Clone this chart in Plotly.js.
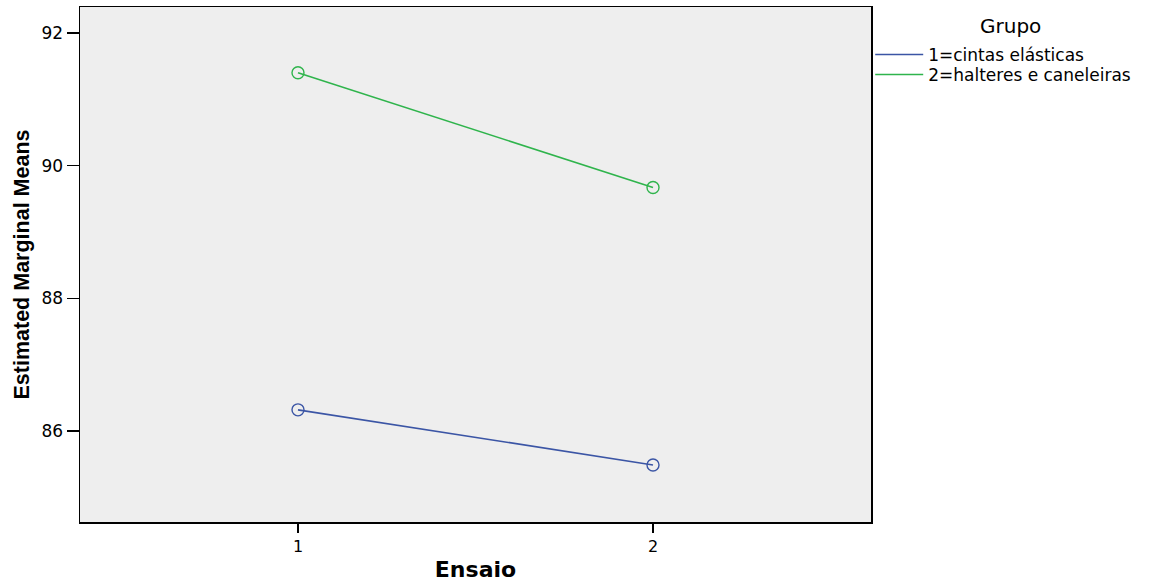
<!DOCTYPE html>
<html><head><meta charset="utf-8">
<script src="https://cdn.plot.ly/plotly-3.0.1.min.js"></script>
<style>body{margin:0;background:#fff}#c{width:1154px;height:587px}</style>
</head><body><div id="c"></div>
<script>
const ensaio = [1, 2];
const grupo1Name = "1=cintas elásticas";
const grupo1 = [86.32, 85.49];
const grupo2Name = "2=halteres e caneleiras";
const grupo2 = [91.40, 89.67];
const yTicks = [86, 88, 90, 92];
const legendTitle = "Grupo";

const blue = "#3b55a5", green = "#2fb44c";
function lineTrace(y, name, color, leg) {
  return {x: ensaio, y: y, name: name, type: "scatter", mode: "lines",
    line: {color: color, width: 1.6}, legend: leg};
}
function markTrace(y, name, color) {
  return {x: ensaio, y: y, name: name, type: "scatter", mode: "markers", showlegend: false,
    marker: {symbol: "circle-open", size: 12, color: color, line: {width: 1.4, color: color}}};
}
const traces = [
  lineTrace(grupo1, grupo1Name, blue, "legend"), lineTrace(grupo2, grupo2Name, green, "legend2"),
  markTrace(grupo1, grupo1Name, blue), markTrace(grupo2, grupo2Name, green)
];

const H = 587, T = 7, B = 65, PH = H - T - B;
function py(p) { return 1 - (p - T) / PH; }
function leg(centerPx) {
  return {x: 0.999, xanchor: "left", y: py(centerPx), yanchor: "middle",
    font: {size: 17, color: "#000"}, itemwidth: 48, bgcolor: "rgba(0,0,0,0)"};
}

const layout = {
  width: 1154, height: H,
  margin: {l: 80, r: 283, t: T, b: B},
  paper_bgcolor: "#ffffff", plot_bgcolor: "#eeeeee",
  font: {family: "DejaVu Sans, sans-serif", color: "#000"},
  showlegend: true,
  legend: leg(55),
  legend2: leg(75),
  annotations: [{text: legendTitle, xref: "paper", yref: "paper", x: 1.176, y: py(26),
    xanchor: "center", yanchor: "middle", showarrow: false, font: {size: 20, color: "#000"}}],
  xaxis: {range: [0.386, 2.614], tickvals: ensaio, ticktext: ensaio.map(String),
    showgrid: false, zeroline: false, showline: true, linecolor: "#000", linewidth: 1.5,
    mirror: true, ticks: "outside", ticklen: 9, tickwidth: 1.5, tickcolor: "#000",
    tickfont: {size: 16, color: "#000"},
    title: {text: "<b>Ensaio</b>", font: {size: 22}, standoff: 7}},
  yaxis: {range: [84.63, 92.39], tickvals: yTicks, ticktext: yTicks.map(String),
    showgrid: false, zeroline: false, showline: true, linecolor: "#000", linewidth: 1.5,
    mirror: true, ticks: "outside", ticklen: 12, tickwidth: 1.5, tickcolor: "#000",
    tickfont: {size: 17, color: "#000"},
    title: {text: "<b>Estimated Marginal Means</b>", font: {size: 21.5, family: "Liberation Sans Narrow, Liberation Sans, sans-serif"}, standoff: 6}}
};
Plotly.newPlot("c", traces, layout, {displayModeBar: false, staticPlot: true});
</script></body></html>
